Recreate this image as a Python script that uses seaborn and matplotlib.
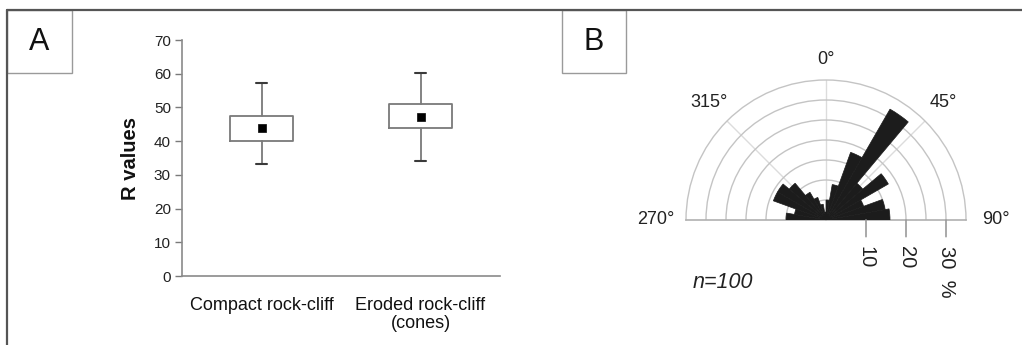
import numpy as np
import matplotlib
matplotlib.use("Agg")
import matplotlib.pyplot as plt
from matplotlib.lines import Line2D
from matplotlib.patches import Rectangle
import seaborn as sns

# ---------------- data ----------------
categories = ["Compact rock-cliff", "Eroded rock-cliff\n(cones)"]
whisker_low = [33.1, 34.0]
box_low = [40.1, 44.0]
means = [44.0, 47.1]
box_high = [47.5, 51.0]
whisker_high = [57.1, 60.1]

y_ticks = [0, 10, 20, 30, 40, 50, 60, 70]

# rose diagram: 10-degree bins (start angle, degrees clockwise from north), percent
bin_starts = [270, 280, 290, 300, 310, 320, 330, 340, 350,
              0, 10, 20, 30, 40, 50, 60, 70, 80]
bin_percent = [10, 8, 14, 14, 12, 8, 6, 4, 2,
               5, 9, 18, 32, 12, 18, 10, 15, 16]
ring_values = [5, 10, 15, 20, 25, 30]
r_max = 35
radial_tick_labels = ["10", "20", "30  %"]
radial_tick_values = [10, 20, 30]
direction_labels = ["270°", "315°", "0°", "45°", "90°"]
direction_angles = [270, 315, 0, 45, 90]
n_label = "n=100"

# ---------------- style ----------------
sns.set_theme(style="white")
plt.rcParams["font.family"] = ["Liberation Sans", "DejaVu Sans"]

W, H = 1022, 345
fig = plt.figure(figsize=(W / 100, H / 100), dpi=100)


def fx(px):
    return px / W


def fy(py):
    return 1 - py / H


# ---------------- panel A ----------------
axA = fig.add_axes([fx(182), fy(276), (500 - 182) / W, (276 - 40) / H])
positions = np.arange(len(categories))
stats = []
for i in range(len(categories)):
    stats.append(dict(whislo=whisker_low[i], q1=box_low[i], med=means[i],
                      q3=box_high[i], whishi=whisker_high[i], fliers=[]))
axA.bxp(stats, positions=positions, widths=0.40, capwidths=0.07,
        showfliers=False, patch_artist=False,
        boxprops=dict(color="#7a7a7a", linewidth=1.3),
        whiskerprops=dict(color="#7a7a7a", linewidth=1.3),
        capprops=dict(color="#3a3a3a", linewidth=1.5),
        medianprops=dict(linewidth=0))
sns.scatterplot(x=positions, y=means, marker="s", color="black",
                edgecolor="black", s=36, ax=axA, legend=False, zorder=5)

axA.set_xlim(-0.5, len(categories) - 0.5)
axA.set_ylim(0, 70)
axA.set_yticks(y_ticks)
axA.set_yticklabels([str(v) for v in y_ticks], fontsize=11, color="#222222")
axA.set_xticks(np.arange(-0.5, len(categories)), labels=[])
axA.set_xticks(positions, minor=True)
axA.set_xticklabels(categories, minor=True, fontsize=13, color="#111111",
                    linespacing=1.1)
axA.tick_params(axis="x", which="minor", length=0, pad=15)
axA.tick_params(axis="x", which="major", length=5, color="#7a7a7a", width=1)
axA.tick_params(axis="y", length=5, color="#7a7a7a", width=1, direction="out",
                left=True, pad=3)
for s in ["top", "right"]:
    axA.spines[s].set_visible(False)
for s in ["left", "bottom"]:
    axA.spines[s].set_color("#8a8a8a")
    axA.spines[s].set_linewidth(1.2)
axA.set_ylabel("R values", fontsize=14.5, fontweight="bold", labelpad=10,
               color="#111111")
axA.set_xlabel("")

# ---------------- panel B (rose diagram) ----------------
# square box: the half-circle wedge is fitted so that its centre sits at y=220 px
axB = fig.add_axes([fx(686), fy(290), 280 / W, 280 / H], projection="polar")
axB.set_theta_zero_location("N")
axB.set_theta_direction(-1)
axB.set_thetamin(-90)
axB.set_thetamax(90)
axB.set_rlim(0, r_max)

starts = np.array(bin_starts, dtype=float)
starts = np.where(starts >= 180, starts - 360, starts)
theta = np.deg2rad(starts + 5)
axB.bar(theta, bin_percent, width=np.deg2rad(10), bottom=0,
        color="#1c1c1c", edgecolor="#1c1c1c", linewidth=0.5, zorder=3)

axB.set_yticks(ring_values)
axB.set_yticklabels([])
axB.set_xticks(np.deg2rad([-45, 0, 45]))
axB.set_xticklabels([])
axB.grid(True, color="#c4c4c4", linewidth=1.0)
axB.xaxis.grid(True, color="#dcdcdc", linewidth=1.0)
axB.tick_params(length=0)
axB.spines["polar"].set_color("#c4c4c4")
axB.spines["polar"].set_linewidth(1.0)
for s in ["start", "end"]:
    axB.spines[s].set_color("#b0b0b0")
    axB.spines[s].set_linewidth(1.2)
axB.spines["inner"].set_visible(False)
axB.set_facecolor("white")

label_r = {270: 42.5, 315: 41.5, 0: 40.0, 45: 41.5, 90: 42.5}
for lab, ang in zip(direction_labels, direction_angles):
    a = ang if ang < 180 else ang - 360
    axB.text(np.deg2rad(a), label_r[ang], lab, ha="center", va="center",
             fontsize=13, color="#222222", clip_on=False)

for val, lab in zip(radial_tick_values, radial_tick_labels):
    axB.annotate("", xy=(np.pi / 2, val), xytext=(0, -12),
                 textcoords="offset points", annotation_clip=False,
                 arrowprops=dict(arrowstyle="-", color="#9a9a9a", lw=1.2,
                                 shrinkA=0, shrinkB=0))
    axB.annotate(lab, xy=(np.pi / 2, val), xytext=(0, -19),
                 textcoords="offset points", annotation_clip=False,
                 rotation=270, ha="center", va="top", fontsize=14.5,
                 color="#222222", rotation_mode="default")

fig.text(fx(723), fy(283), n_label, ha="center", va="center", fontsize=15.5,
         style="italic", color="#222222")

# ---------------- frame and panel letters ----------------
fig.add_artist(Line2D([fx(7), fx(1022)], [fy(10), fy(10)], color="#555555",
                      linewidth=1.6, transform=fig.transFigure))
fig.add_artist(Line2D([fx(7), fx(7)], [fy(10), fy(345)], color="#555555",
                      linewidth=1.6, transform=fig.transFigure))
for (x0, x1, letter) in [(7, 72, "A"), (562, 626, "B")]:
    fig.add_artist(Rectangle((fx(x0), fy(73)), fx(x1) - fx(x0), fy(10) - fy(73),
                             transform=fig.transFigure, fill=False,
                             edgecolor="#9a9a9a", linewidth=1.0))
    fig.text((fx(x0) + fx(x1)) / 2, fy(42), letter, ha="center", va="center",
             fontsize=22, color="#111111")

fig.savefig("out.png", dpi=100)
